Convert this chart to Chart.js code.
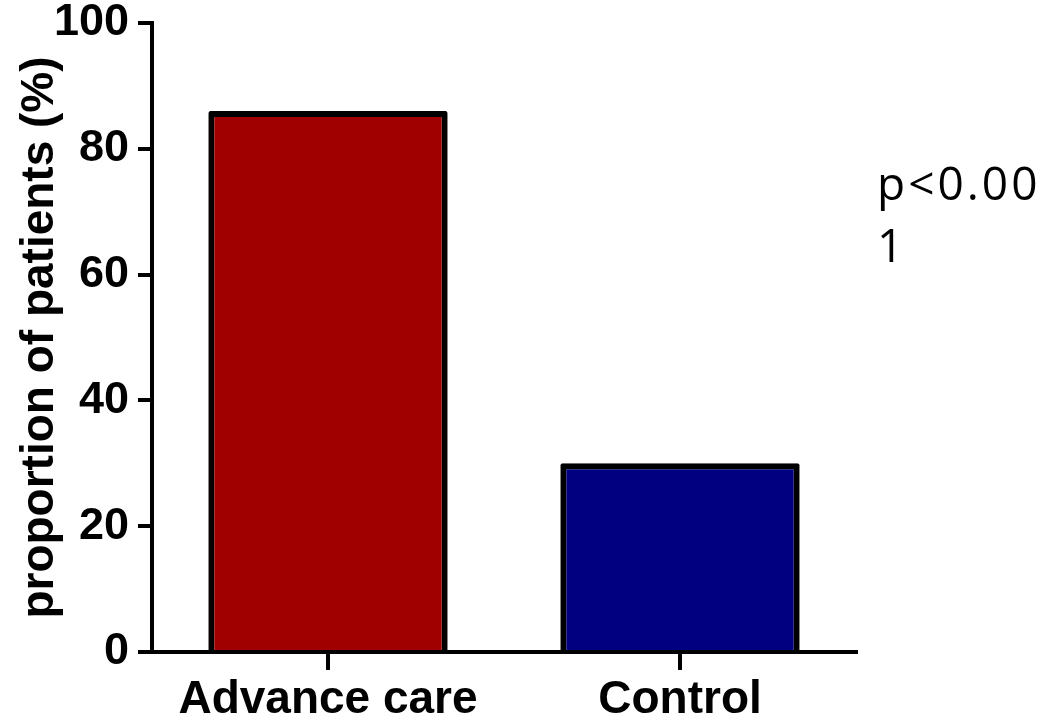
<!DOCTYPE html>
<html>
<head>
<meta charset="utf-8">
<script src="https://cdn.jsdelivr.net/npm/chart.js@4.4.1/dist/chart.umd.min.js"></script>
<style>
  html, body { margin: 0; padding: 0; background: #ffffff; }
  #wrap { width: 1050px; height: 724px; }
</style>
</head>
<body>
<div id="wrap"><canvas id="chart" width="1050" height="724"></canvas></div>
<script>
// Groups and the share of patients in each
const categories = ['Advance care', 'Control'];
const proportions = [86, 30];
const barColors = ['#a00000', '#000080'];
const yTicks = [0, 20, 40, 60, 80, 100];
const yTitle = 'proportion of patients (%)';
const pValueLines = ['p<0.00', '1'];

const SANS = '"Liberation Sans", Arial, Helvetica, sans-serif';

// Significance note written to the right of the plot area
const pValueNote = {
  id: 'pValueNote',
  afterDraw(chart) {
    const { ctx, chartArea } = chart;
    ctx.save();
    ctx.fillStyle = '#000';
    ctx.font = '400 46px "Open Sans", Lato, sans-serif';
    if ('letterSpacing' in ctx) ctx.letterSpacing = '3px';
    ctx.textAlign = 'left';
    ctx.textBaseline = 'alphabetic';
    const x = chartArea.right + 21;
    pValueLines.forEach((line, i) => {
      ctx.fillText(line, x, 200 + i * 62);
    });
    ctx.restore();
  }
};

new Chart(document.getElementById('chart'), {
  type: 'bar',
  data: {
    labels: categories,
    datasets: [{
      data: proportions,
      backgroundColor: barColors,
      borderColor: '#000',
      borderWidth: 6,
      borderSkipped: 'start',
      borderRadius: 2,
      barPercentage: 0.68,
      categoryPercentage: 1.0
    }]
  },
  options: {
    responsive: false,
    animation: false,
    events: [],
    layout: { padding: { left: 13, top: 23, right: 194, bottom: 0 } },
    plugins: { legend: { display: false }, tooltip: { enabled: false } },
    scales: {
      x: {
        offset: true,
        grid: {
          offset: false,
          drawOnChartArea: false,
          drawTicks: true,
          tickLength: 18,
          lineWidth: 4,
          color: '#000'
        },
        border: { display: true, width: 4, color: '#000' },
        ticks: {
          color: '#000',
          padding: 3,
          font: { family: SANS, size: 46, weight: 'bold', lineHeight: 1.2 }
        },
        afterFit(scale) { scale.height = 72; }
      },
      y: {
        min: 0,
        max: 100,
        afterBuildTicks(scale) { scale.ticks = yTicks.map(v => ({ value: v })); },
        grid: {
          drawOnChartArea: false,
          drawTicks: true,
          tickLength: 14,
          lineWidth: 4,
          color: '#000'
        },
        border: { display: true, width: 4, color: '#000' },
        ticks: {
          color: '#000',
          padding: 9,
          font: { family: SANS, size: 45, weight: 'bold', lineHeight: 0.5 }
        },
        title: {
          display: true,
          text: yTitle,
          color: '#000',
          padding: 0,
          font: { family: SANS, size: 46, weight: 'bold', lineHeight: 1.2 }
        },
        afterFit(scale) { scale.width = 139; }
      }
    }
  },
  plugins: [pValueNote]
});
</script>
</body>
</html>
